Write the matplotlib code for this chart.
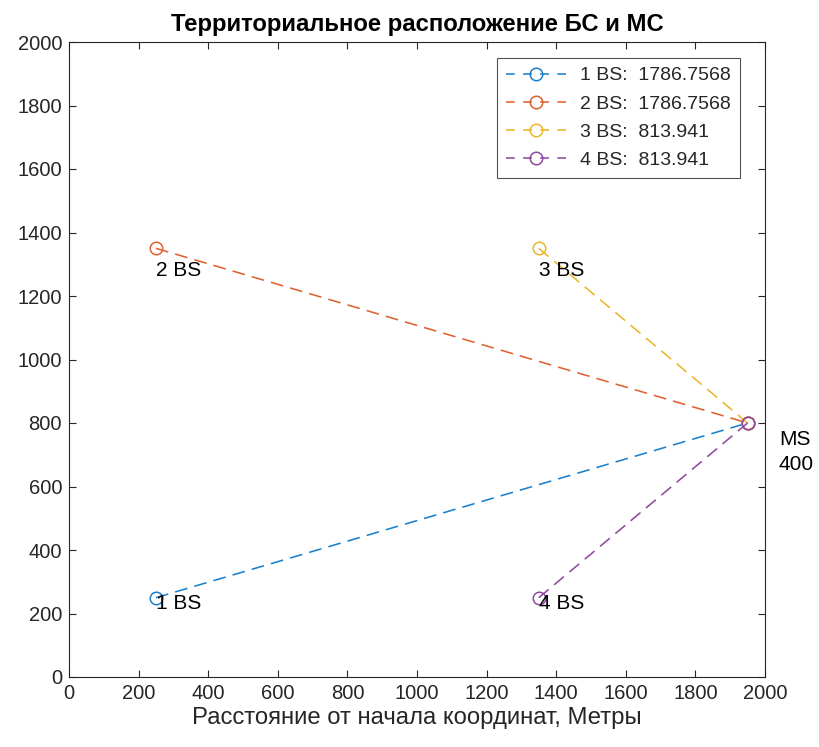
import numpy as np
import matplotlib
matplotlib.use("Agg")
import matplotlib.pyplot as plt

plt.rcParams['font.family'] = ['Liberation Sans', 'DejaVu Sans']

bs_names = ["1 BS", "2 BS", "3 BS", "4 BS"]
bs_x = [250, 250, 1350, 1350]
bs_y = [250, 1350, 1350, 250]
ms_x = 1950
ms_y = 800
ms_label = "MS\n400"
distances = ["1786.7568", "1786.7568", "813.941", "813.941"]
label_y = [233, 1279, 1279, 233]
colors = ["#1A80CC", "#DE6230", "#EDB52C", "#9049A0"]
xticks = [0, 200, 400, 600, 800, 1000, 1200, 1400, 1600, 1800, 2000]
yticks = [0, 200, 400, 600, 800, 1000, 1200, 1400, 1600, 1800, 2000]

fig = plt.figure(figsize=(8.19, 7.47), dpi=100)
L, R, T, B = 69, 765, 42, 677
ax = fig.add_axes([L / 819, (747 - B) / 747, (R - L) / 819, (B - T) / 747])

tc = "#262626"
for i in range(4):
    ax.plot([bs_x[i], ms_x], [bs_y[i], ms_y], linestyle=(0, (8, 4.5)), color=colors[i],
            linewidth=1.15, marker='o', markersize=9, markerfacecolor='none',
            markeredgewidth=1.1, label=f"{bs_names[i]}:  {distances[i]}")
    ax.text(bs_x[i], label_y[i], bs_names[i], fontsize=15, color='black',
            ha='left', va='center')

ax.text(2040, 709, ms_label, fontsize=15, color='black', ha='left', va='center',
        linespacing=1.4, clip_on=False)

ax.set_xlim(0, 2000)
ax.set_ylim(0, 2000)
ax.set_xticks(xticks)
ax.set_yticks(yticks)
ax.tick_params(direction='in', top=True, right=True, length=5, width=0.8,
               labelsize=14.5, colors=tc, labelcolor=tc, pad=5)
for s in ax.spines.values():
    s.set_color(tc)
    s.set_linewidth(0.8)

ax.set_title("Территориальное расположение БС и МС", fontsize=17.2,
             fontweight='bold', color='black', pad=8)
ax.set_xlabel("Расстояние от начала координат, Метры", fontsize=17.2, color=tc,
              labelpad=3)

leg = ax.legend(loc='upper right',
                bbox_to_anchor=((740 - L) / (R - L), 1 - (58 - T) / (B - T)),
                fontsize=14, frameon=True, fancybox=False, handlelength=3.1,
                borderpad=0.45, labelspacing=0.55, handletextpad=0.75, borderaxespad=0)
for h in leg.legend_handles:
    h.set_linestyle((0, (5.5, 5.2)))
leg.get_frame().set_edgecolor(tc)
leg.get_frame().set_linewidth(0.8)
for t in leg.get_texts():
    t.set_color(tc)

fig.savefig("out.png", dpi=100, facecolor='white')
